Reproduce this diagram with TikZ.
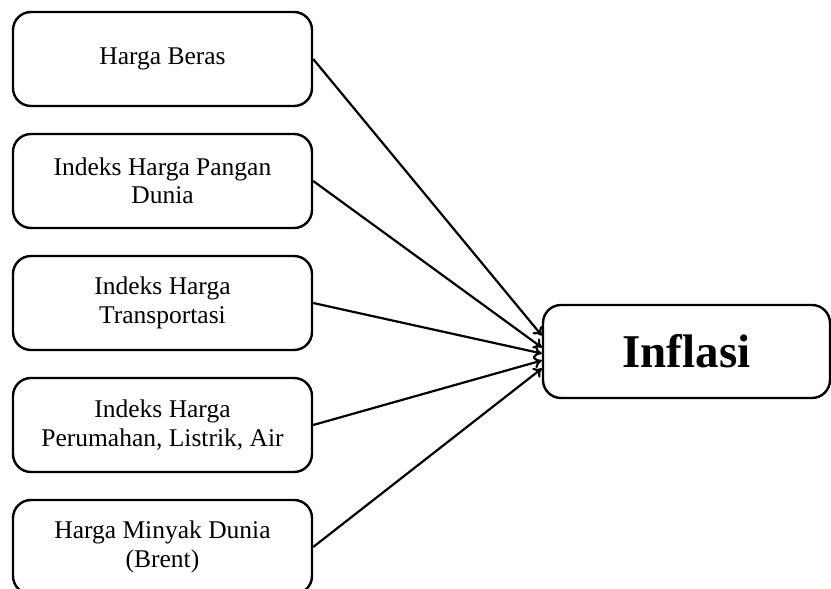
\documentclass[tikz,border=0pt]{standalone}
\usepackage{fontspec}
\setmainfont{Liberation Serif}
\usetikzlibrary{arrows.meta, positioning}

\begin{document}
\begin{tikzpicture}[
    var/.style={draw, line width=1.2pt, rounded corners=9pt, align=center,
        minimum width=149.5pt, minimum height=47pt, inner sep=2pt,
        font=\fontsize{12.75}{14.2}\selectfont},
    hasil/.style={draw, line width=1.2pt, rounded corners=9pt, align=center,
        minimum width=143.5pt, minimum height=46.5pt,
        font=\fontsize{23.5}{28}\selectfont\bfseries},
    panah/.style={-{To[length=4pt, width=6pt]}, line width=1.1pt},
]
\useasboundingbox (0,0) rectangle (415.5pt,-294.5pt);

% variabel bebas
\node[var] (v1) at (81.25pt,-29.5pt) {Harga Beras};
\node[var, below=12.8pt of v1] (v2) {Indeks Harga Pangan\\Dunia};
\node[var, below=12.8pt of v2] (v3) {Indeks Harga\\Transportasi};
\node[var, below=12.8pt of v3] (v4) {Indeks Harga\\Perumahan, Listrik, Air};
\node[var, below=12.8pt of v4] (v5) {Harga Minyak Dunia\\(Brent)};

% variabel terikat
\node[hasil] (inf) at (343.25pt,-175.75pt) {Inflasi};

% pengaruh
\foreach \v/\d in {v1/8pt, v2/2pt, v3/-1pt, v4/-4.5pt, v5/-8.5pt}
    \draw[panah] (\v.east) -- ([yshift=\d]inf.west);

\end{tikzpicture}
\end{document}
